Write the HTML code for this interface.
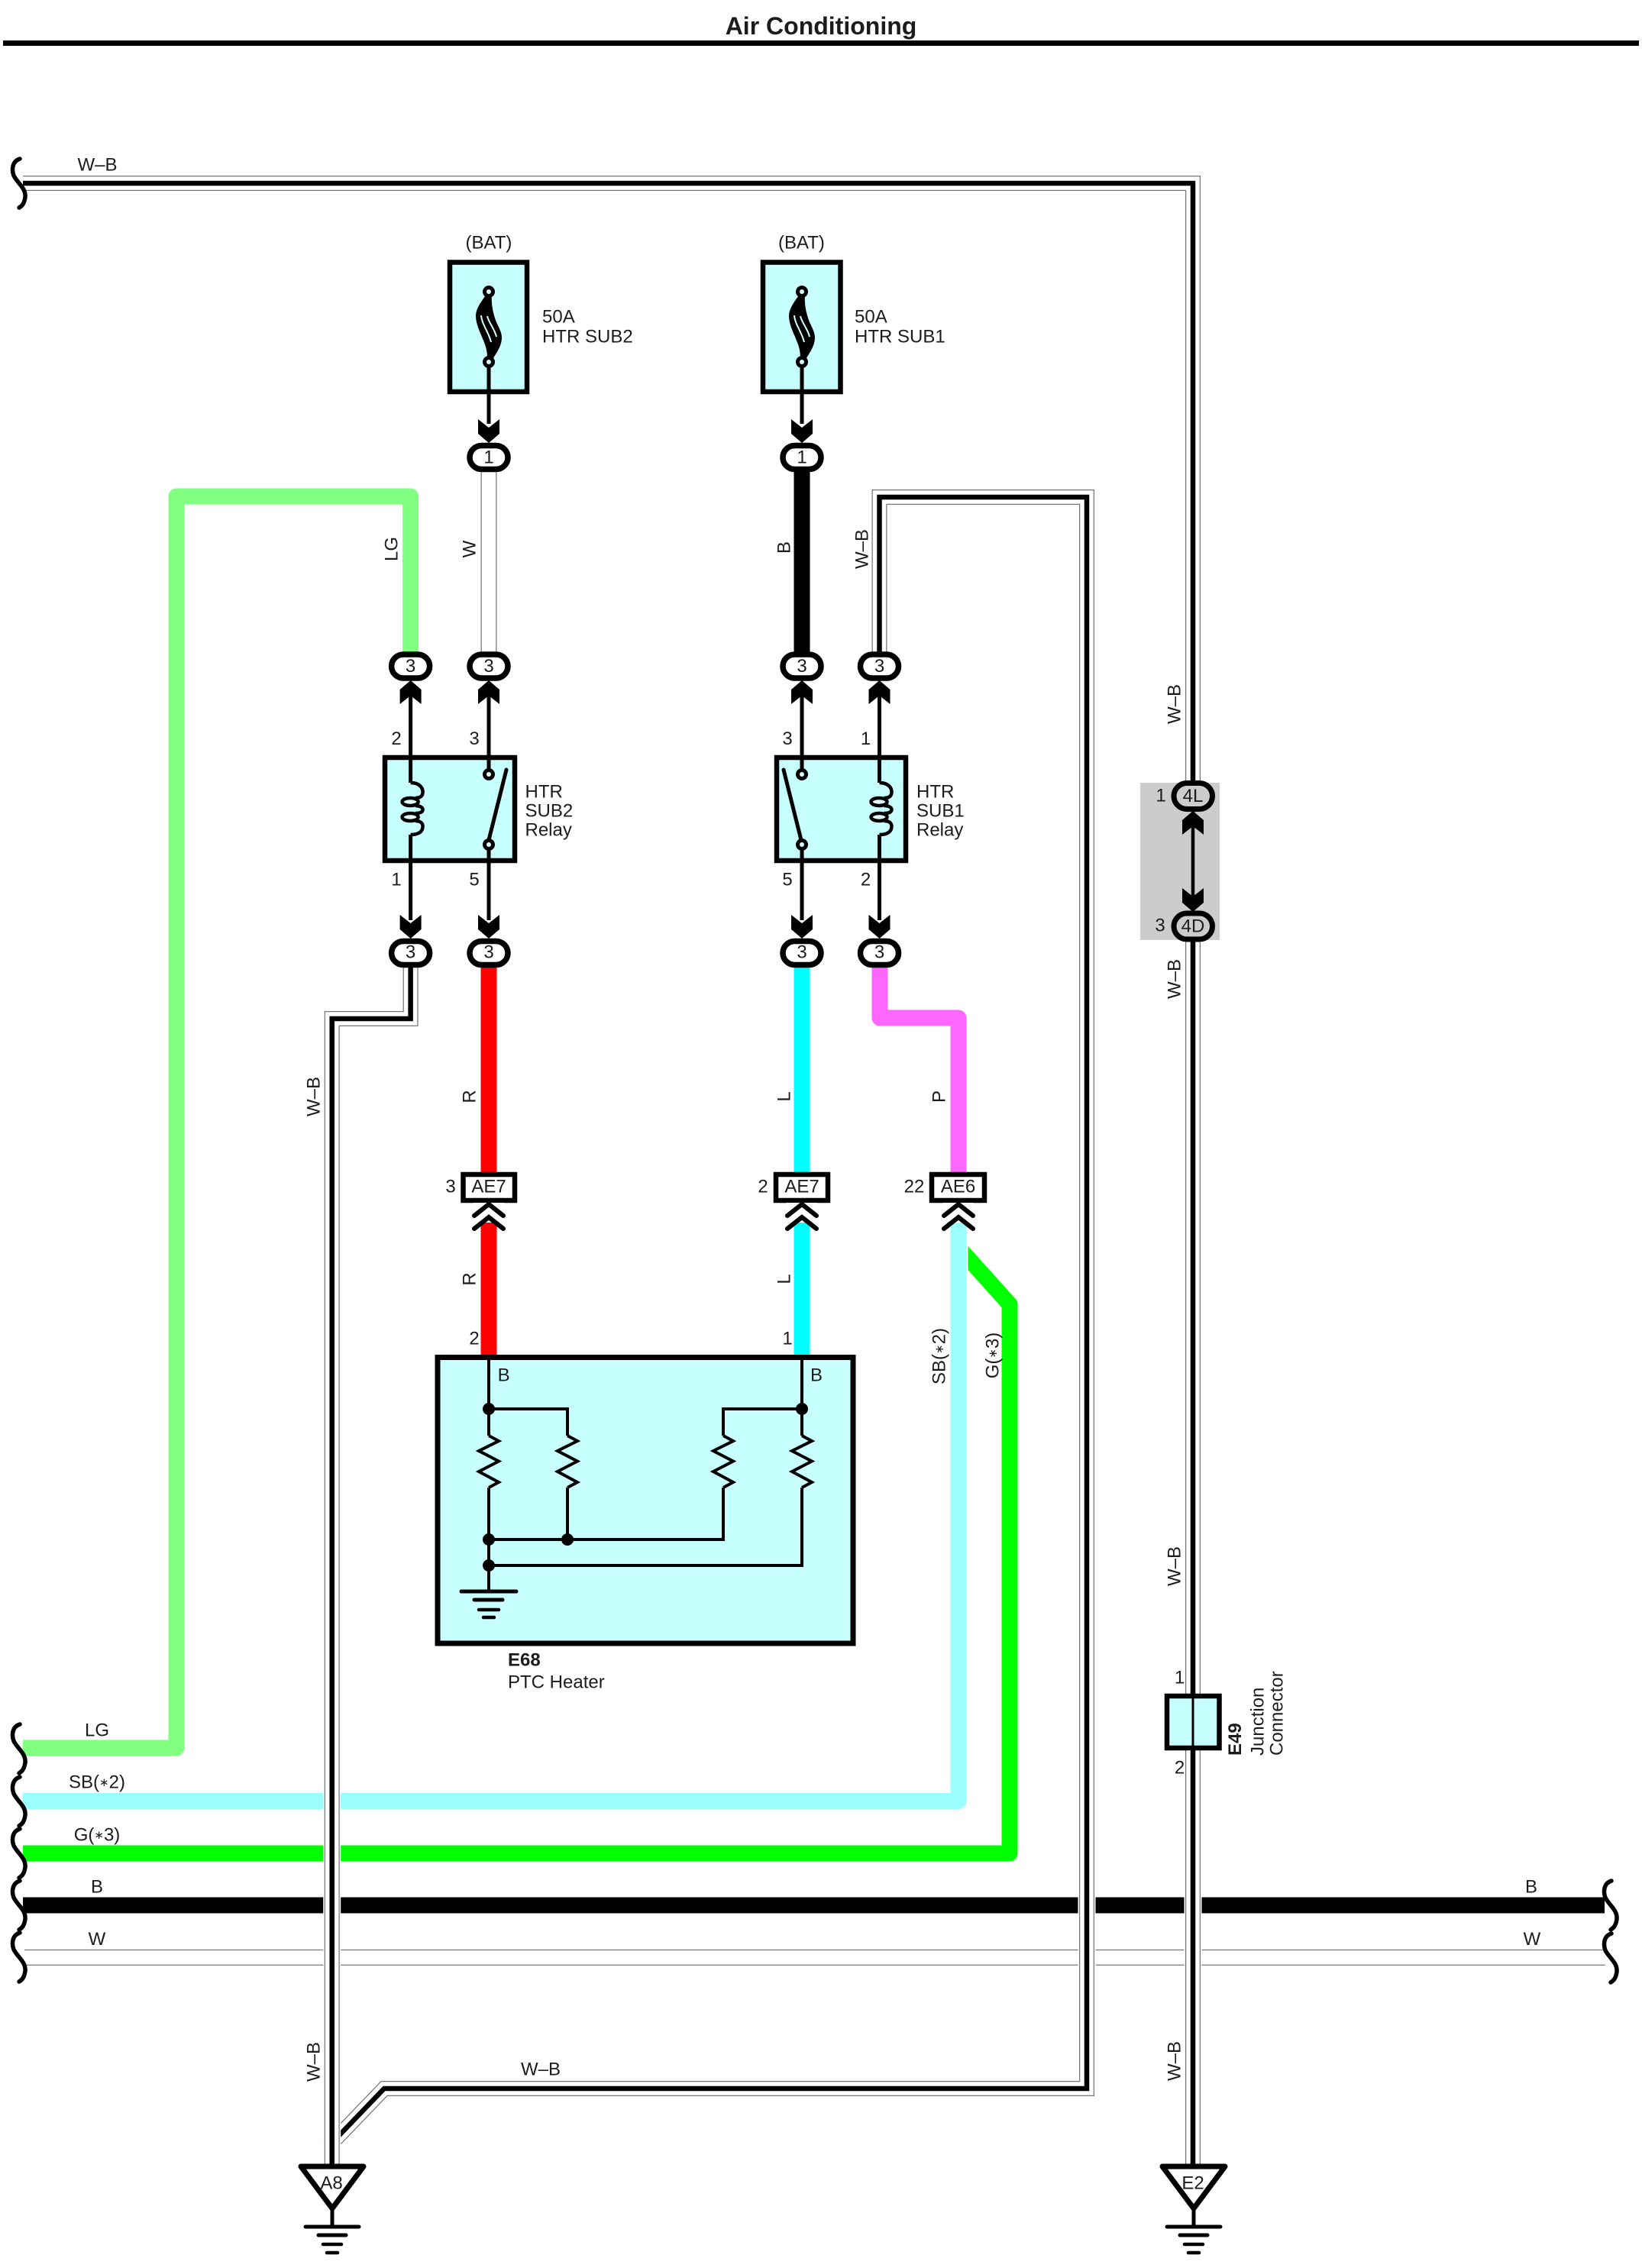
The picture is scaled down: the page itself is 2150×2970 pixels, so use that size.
<!DOCTYPE html>
<html><head><meta charset="utf-8"><title>Air Conditioning</title>
<style>
html,body{margin:0;padding:0;background:#fff}
svg{display:block}
text{font-family:"Liberation Sans",Arial,sans-serif;font-size:24px;fill:#1c1c1c;dominant-baseline:central}
.c{text-anchor:middle}
.b{font-weight:bold}
.w{fill:none;stroke-linejoin:round}
.m{fill:none;stroke-linejoin:miter;stroke-miterlimit:4}
.s{font-size:15px}
</style></head><body>
<svg width="2150" height="2970" viewBox="0 0 2150 2970" xmlns="http://www.w3.org/2000/svg">
<defs>
<polygon id="ad" points="-14,-31 0,-20 14,-31 14,-12 0,0 -14,-12" fill="#000"/>
<polygon id="au" points="-14,31 0,20 14,31 14,12 0,0 -14,12" fill="#000"/>
<rect id="ov" x="-25" y="-15.5" width="50" height="31" rx="15.5" fill="#fff" stroke="#000" stroke-width="7.5"/>
<g id="fuse">
<path d="M-3,-42 L4,-42 C3,-30 5,-18 10,-5 C15,5 17,10 17,15 C17,26 10,35 6,42 L-2,42 C-2,30 -5,24 -9,14 C-14,3 -17,-6 -17,-13 C-17,-24 -8,-34 -3,-42Z" fill="#000"/>
<path d="M-10,-14 C-9,-2 0,8 3,21 M-2,-13 C0,-4 8,4 10,14" fill="none" stroke="#d8ffff" stroke-width="2"/>
<circle cx="0" cy="-45" r="5.5" fill="#d8ffff" stroke="#000" stroke-width="5"/>
<circle cx="0" cy="47" r="5.5" fill="#d8ffff" stroke="#000" stroke-width="5"/>
</g>
<path id="coil" d="M0,0 C12,0 16,7 16,12 C16,18 12,20 6,20 M6,30 C13,30 16,33 16,35 C16,38 13,40 6,40 M6,50 C13,50 16,53 16,57 C16,63 12,68 0,68" fill="none" stroke="#000" stroke-width="4.5"/>
<g id="coilf">
<use href="#coil"/>
<ellipse cx="-0.5" cy="25" rx="10.5" ry="5" fill="#e4ffff" stroke="#000" stroke-width="4.5"/>
<ellipse cx="-0.5" cy="45" rx="10.5" ry="5" fill="#e4ffff" stroke="#000" stroke-width="4.5"/>
</g>
<polyline id="res" points="0,0 13,7 -13,20 13,33.5 -13,47 13,61 0,68" fill="none" stroke="#000" stroke-width="4"/>
<path id="chev" d="M-19,18 L0,3 L19,18 M-19,35 L0,20 L19,35" fill="none" stroke="#000" stroke-width="6" stroke-linecap="round"/>
<path id="brace" d="M9,0 C-1,3 -2,14 1,22 C6,32 17,38 16,50 C15,57 13,61 8,64" fill="none" stroke="#000" stroke-width="5.5" stroke-linecap="round"/>
<g id="gnd" stroke="#000" fill="none" stroke-linecap="round">
<path d="M0,0 V24" stroke-width="5"/>
<path d="M-35,24 H35" stroke-width="5"/>
<path d="M-18,35 H18" stroke-width="5"/>
<path d="M-12,47 H12" stroke-width="4.5"/>
<path d="M-7,58 H7" stroke-width="4.5"/>
</g>
</defs>

<!-- title -->
<text x="1075" y="34" class="c b" style="font-size:32px">Air Conditioning</text>
<rect x="4" y="53" width="2142" height="7" fill="#000"/>

<!-- coloured wires -->
<path class="w" d="M30,2289 H231 V650 H537.6 V855" stroke="#80ff80" stroke-width="21"/>
<path class="w" d="M30,2427 H1322 V1708 L1250,1628" stroke="#00ff00" stroke-width="21" stroke-linejoin="miter"/>
<rect x="1240" y="1600" width="27.5" height="120" fill="#fff"/>
<path class="w" d="M30,2358.5 H1255 V1600" stroke="#99ffff" stroke-width="21"/>
<path d="M30,2495 H2101" stroke="#000" stroke-width="21"/>
<path d="M32,2563.4 H2102" stroke="#777" stroke-width="21"/>
<path d="M32,2563.4 H2102" stroke="#fff" stroke-width="18.5"/>

<path d="M640,1260 V1540" stroke="#ff0000" stroke-width="21"/>
<path d="M640,1600 V1776" stroke="#ff0000" stroke-width="21"/>
<path d="M1050,1260 V1540" stroke="#00ffff" stroke-width="21"/>
<path d="M1050,1600 V1776" stroke="#00ffff" stroke-width="21"/>
<path class="w" d="M1152,1260 V1333 H1255 V1540" stroke="#ff66ff" stroke-width="21"/>
<path d="M1050,610 V860" stroke="#000" stroke-width="21"/>
<path d="M640,610 V860" stroke="#777" stroke-width="21"/>
<path d="M640,610 V860" stroke="#fff" stroke-width="18.5"/>

<!-- W-B wires: white underlay, gray edge, white core, black centre -->
<g class="m">
<path d="M1562,1025 V240 H30" stroke="#777" stroke-width="20"/>
<path d="M1562,1025 V240 H30" stroke="#fff" stroke-width="17.5"/>
<path d="M1562,1025 V240 H30" stroke="#000" stroke-width="6.5"/>

<path d="M1562,1230 V2836" stroke="#fff" stroke-width="23"/>
<path d="M1562,1230 V2836" stroke="#777" stroke-width="20"/>
<path d="M1562,1230 V2836" stroke="#fff" stroke-width="17.5"/>
<path d="M1562,1230 V2836" stroke="#000" stroke-width="6.5"/>

<path d="M430,2811 L503,2735 H1423 V651 H1151.5 V860" stroke="#fff" stroke-width="23"/>
<path d="M430,2811 L503,2735 H1423 V651 H1151.5 V860" stroke="#777" stroke-width="20"/>
<path d="M430,2811 L503,2735 H1423 V651 H1151.5 V860" stroke="#fff" stroke-width="17.5"/>
<path d="M430,2811 L503,2735 H1423 V651 H1151.5 V860" stroke="#000" stroke-width="6.5"/>

<path d="M537.6,1260 V1334 H434.7 V2836" stroke="#fff" stroke-width="23"/>
<path d="M537.6,1260 V1334 H434.7 V2836" stroke="#777" stroke-width="20"/>
<path d="M537.6,1260 V1334 H434.7 V2836" stroke="#fff" stroke-width="17.5"/>
<path d="M537.6,1260 V1334 H434.7 V2836" stroke="#000" stroke-width="6.5"/>
</g>

<!-- left braces -->
<use href="#brace" x="17" y="208"/>
<use href="#brace" x="17" y="2258"/>
<use href="#brace" x="17" y="2327"/>
<use href="#brace" x="17" y="2395"/>
<use href="#brace" x="17" y="2463"/>
<use href="#brace" x="17" y="2531"/>
<!-- right braces -->
<use href="#brace" x="2101" y="2463"/>
<use href="#brace" x="2101" y="2532"/>

<!-- fuses -->
<rect x="589" y="343.5" width="101" height="169.5" fill="#c8ffff" stroke="#000" stroke-width="6.5"/>
<rect x="999" y="343.5" width="101.5" height="169.5" fill="#c8ffff" stroke="#000" stroke-width="6.5"/>
<path d="M640,479 V555 M1050,479 V555" stroke="#000" stroke-width="5"/>
<use href="#fuse" x="640" y="427"/>
<use href="#fuse" x="1050" y="427"/>
<use href="#ad" x="640" y="580"/>
<use href="#ad" x="1050" y="580"/>

<!-- relays -->
<rect x="504" y="992" width="170" height="135" fill="#c8ffff" stroke="#000" stroke-width="6.5"/>
<rect x="1017" y="992" width="169" height="135" fill="#c8ffff" stroke="#000" stroke-width="6.5"/>
<g stroke="#000" stroke-width="5" fill="none">
<path d="M537.6,895 V1025 M537.6,1093 V1205"/>
<path d="M640,895 V1010 M640,1111 V1205"/>
<path d="M1050,895 V1010 M1050,1111 V1205"/>
<path d="M1151.5,895 V1025 M1151.5,1093 V1205"/>
<path d="M663,1008 L640,1100" stroke-linecap="round"/>
<path d="M1026,1008 L1049,1100" stroke-linecap="round"/>
</g>
<use href="#coilf" x="537.6" y="1025"/>
<use href="#coilf" x="1151.5" y="1025"/>
<g fill="#e4ffff" stroke="#000" stroke-width="5">
<circle cx="640" cy="1014" r="5.5"/><circle cx="640" cy="1106" r="5.5"/>
<circle cx="1050" cy="1014" r="5.5"/><circle cx="1050" cy="1106" r="5.5"/>
</g>
<use href="#au" x="537.6" y="891"/>
<use href="#au" x="640" y="891"/>
<use href="#au" x="1050" y="891"/>
<use href="#au" x="1151.5" y="891"/>
<use href="#ad" x="537.6" y="1229"/>
<use href="#ad" x="640" y="1229"/>
<use href="#ad" x="1050" y="1229"/>
<use href="#ad" x="1151.5" y="1229"/>

<!-- ovals -->
<use href="#ov" x="640" y="599"/><use href="#ov" x="1050" y="599"/>
<use href="#ov" x="537.6" y="872.5"/><use href="#ov" x="640" y="872.5"/><use href="#ov" x="1050" y="872.5"/><use href="#ov" x="1151.5" y="872.5"/>
<use href="#ov" x="537.6" y="1248"/><use href="#ov" x="640" y="1248"/><use href="#ov" x="1050" y="1248"/><use href="#ov" x="1151.5" y="1248"/>
<g class="c">
<text x="640" y="599" class="c">1</text><text x="1050" y="599" class="c">1</text>
<text x="537.6" y="872.5" class="c">3</text><text x="640" y="872.5" class="c">3</text><text x="1050" y="872.5" class="c">3</text><text x="1151.5" y="872.5" class="c">3</text>
<text x="537.6" y="1247" class="c">3</text><text x="640" y="1247" class="c">3</text><text x="1050" y="1247" class="c">3</text><text x="1151.5" y="1247" class="c">3</text>
</g>

<!-- AE connectors -->
<g fill="#fff" stroke="#000" stroke-width="6.5">
<rect x="606.5" y="1538" width="67.5" height="34"/>
<rect x="1016" y="1538" width="68" height="34"/>
<rect x="1220" y="1538" width="69" height="34"/>
</g>
<rect x="620" y="1575" width="40" height="26" fill="#fff"/>
<rect x="1030" y="1575" width="40" height="26" fill="#fff"/>
<rect x="1235" y="1575" width="40" height="26" fill="#fff"/>
<use href="#chev" x="640" y="1574"/><use href="#chev" x="1050" y="1574"/><use href="#chev" x="1255" y="1574"/>
<text x="640" y="1554" class="c">AE7</text><text x="1050" y="1554" class="c">AE7</text><text x="1254.5" y="1554" class="c">AE6</text>

<!-- PTC heater -->
<rect x="573" y="1777.5" width="544" height="374.5" fill="#c8ffff" stroke="#000" stroke-width="7"/>
<g fill="none" stroke="#000" stroke-width="4">
<path d="M640,1777 V1880 M640,1948 V2084"/>
<path d="M1050,1777 V1880 M1050,1948 V2050 H640"/>
<path d="M640,1845 H743 V1880 M743,1948 V2016"/>
<path d="M1050,1845 H947 V1880 M947,1948 V2016 H640"/>
</g>
<use href="#res" x="640" y="1880"/><use href="#res" x="743" y="1880"/><use href="#res" x="947" y="1880"/><use href="#res" x="1050" y="1880"/>
<g fill="#000">
<circle cx="640" cy="1845" r="8"/><circle cx="1050" cy="1845" r="8"/>
<circle cx="640" cy="2016" r="8"/><circle cx="743" cy="2016" r="8"/>
<circle cx="640" cy="2050" r="8"/>
</g>
<g stroke="#000" stroke-linecap="round" fill="none">
<path d="M604,2084 H676" stroke-width="5"/>
<path d="M621,2095 H658" stroke-width="5"/>
<path d="M627,2108 H653" stroke-width="4.5"/>
<path d="M633,2118 H647" stroke-width="4.5"/>
</g>

<!-- junction block -->
<rect x="1493" y="1025" width="104" height="206" fill="#ccc"/>
<path d="M1562,1060 V1195" stroke="#000" stroke-width="4.5"/>
<use href="#au" x="1562" y="1062"/>
<use href="#ad" x="1562" y="1194"/>
<g fill="#ccc" stroke="#000" stroke-width="7">
<rect x="1537" y="1025.5" width="50.5" height="34" rx="17"/>
<rect x="1537" y="1196" width="50.5" height="34" rx="17"/>
</g>
<text x="1562" y="1042.5" class="c">4L</text><text x="1562" y="1213" class="c">4D</text>
<text x="1520" y="1042" class="c">1</text><text x="1519" y="1212" class="c">3</text>

<!-- E49 -->
<rect x="1528" y="2221" width="68.5" height="68" fill="#c8ffff" stroke="#000" stroke-width="6.5"/>
<path d="M1562,2222 V2288" stroke="#000" stroke-width="3"/>

<!-- grounds -->
<polygon points="394,2837 476,2837 435,2892" fill="#fff" stroke="#000" stroke-width="7" stroke-linejoin="round"/>
<polygon points="1522,2837 1604,2837 1563,2892" fill="#fff" stroke="#000" stroke-width="7" stroke-linejoin="round"/>
<use href="#gnd" x="435" y="2892"/><use href="#gnd" x="1563" y="2892"/>
<text x="434" y="2859" class="c">A8</text><text x="1562" y="2859" class="c">E2</text>

<!-- horizontal labels -->
<text x="127.5" y="216" class="c">W–B</text>
<text x="640" y="318" class="c">(BAT)</text><text x="1049.5" y="318" class="c">(BAT)</text>
<text x="710" y="415">50A</text><text x="710" y="441">HTR SUB2</text>
<text x="1119" y="415">50A</text><text x="1119" y="441">HTR SUB1</text>
<text x="519" y="967.5" class="c">2</text><text x="621" y="967.5" class="c">3</text>
<text x="1031" y="967.5" class="c">3</text><text x="1133.6" y="967.5" class="c">1</text>
<text x="519" y="1152" class="c">1</text><text x="621" y="1152" class="c">5</text>
<text x="1031" y="1152" class="c">5</text><text x="1133.6" y="1152" class="c">2</text>
<text x="687.5" y="1037">HTR</text><text x="687.5" y="1062">SUB2</text><text x="687.5" y="1087">Relay</text>
<text x="1200" y="1037">HTR</text><text x="1200" y="1062">SUB1</text><text x="1200" y="1087">Relay</text>
<text x="590" y="1554" class="c">3</text><text x="999" y="1554" class="c">2</text><text x="1197" y="1554" class="c">22</text>
<text x="621" y="1753" class="c">2</text><text x="1031" y="1753" class="c">1</text>
<text x="659.6" y="1801" class="c">B</text><text x="1069" y="1801" class="c">B</text>
<text x="665" y="2174" class="b">E68</text><text x="665" y="2203">PTC Heater</text>
<text x="127" y="2266" class="c">LG</text>
<text x="127" y="2334" class="c">SB(<tspan class="s">∗</tspan>2)</text>
<text x="127" y="2403" class="c">G(<tspan class="s">∗</tspan>3)</text>
<text x="127" y="2471" class="c">B</text>
<text x="127" y="2539.5" class="c">W</text>
<text x="2005" y="2471" class="c">B</text>
<text x="2006" y="2539.5" class="c">W</text>
<text x="708" y="2710" class="c">W–B</text>
<text x="1544.6" y="2197" class="c">1</text><text x="1544.6" y="2315" class="c">2</text>

<!-- rotated labels -->
<text class="c" transform="translate(513,719) rotate(-90)">LG</text>
<text class="c" transform="translate(615,719) rotate(-90)">W</text>
<text class="c" transform="translate(1027,717) rotate(-90)">B</text>
<text class="c" transform="translate(1129,719) rotate(-90)">W–B</text>
<text class="c" transform="translate(411,1436) rotate(-90)">W–B</text>
<text class="c" transform="translate(411,2700) rotate(-90)">W–B</text>
<text class="c" transform="translate(615,1436) rotate(-90)">R</text>
<text class="c" transform="translate(615,1675) rotate(-90)">R</text>
<text class="c" transform="translate(1027,1436) rotate(-90)">L</text>
<text class="c" transform="translate(1027,1675) rotate(-90)">L</text>
<text class="c" transform="translate(1230,1436) rotate(-90)">P</text>
<text class="c" transform="translate(1230,1776) rotate(-90)">SB(<tspan class="s">∗</tspan>2)</text>
<text class="c" transform="translate(1300,1775) rotate(-90)">G(<tspan class="s">∗</tspan>3)</text>
<text class="c" transform="translate(1538,922) rotate(-90)">W–B</text>
<text class="c" transform="translate(1538,1282) rotate(-90)">W–B</text>
<text class="c" transform="translate(1538,2051) rotate(-90)">W–B</text>
<text class="c" transform="translate(1538,2699) rotate(-90)">W–B</text>
<text class="b" transform="translate(1617.5,2299) rotate(-90)">E49</text>
<text transform="translate(1647,2299) rotate(-90)">Junction</text>
<text transform="translate(1672,2299) rotate(-90)">Connector</text>
</svg>
</body></html>
